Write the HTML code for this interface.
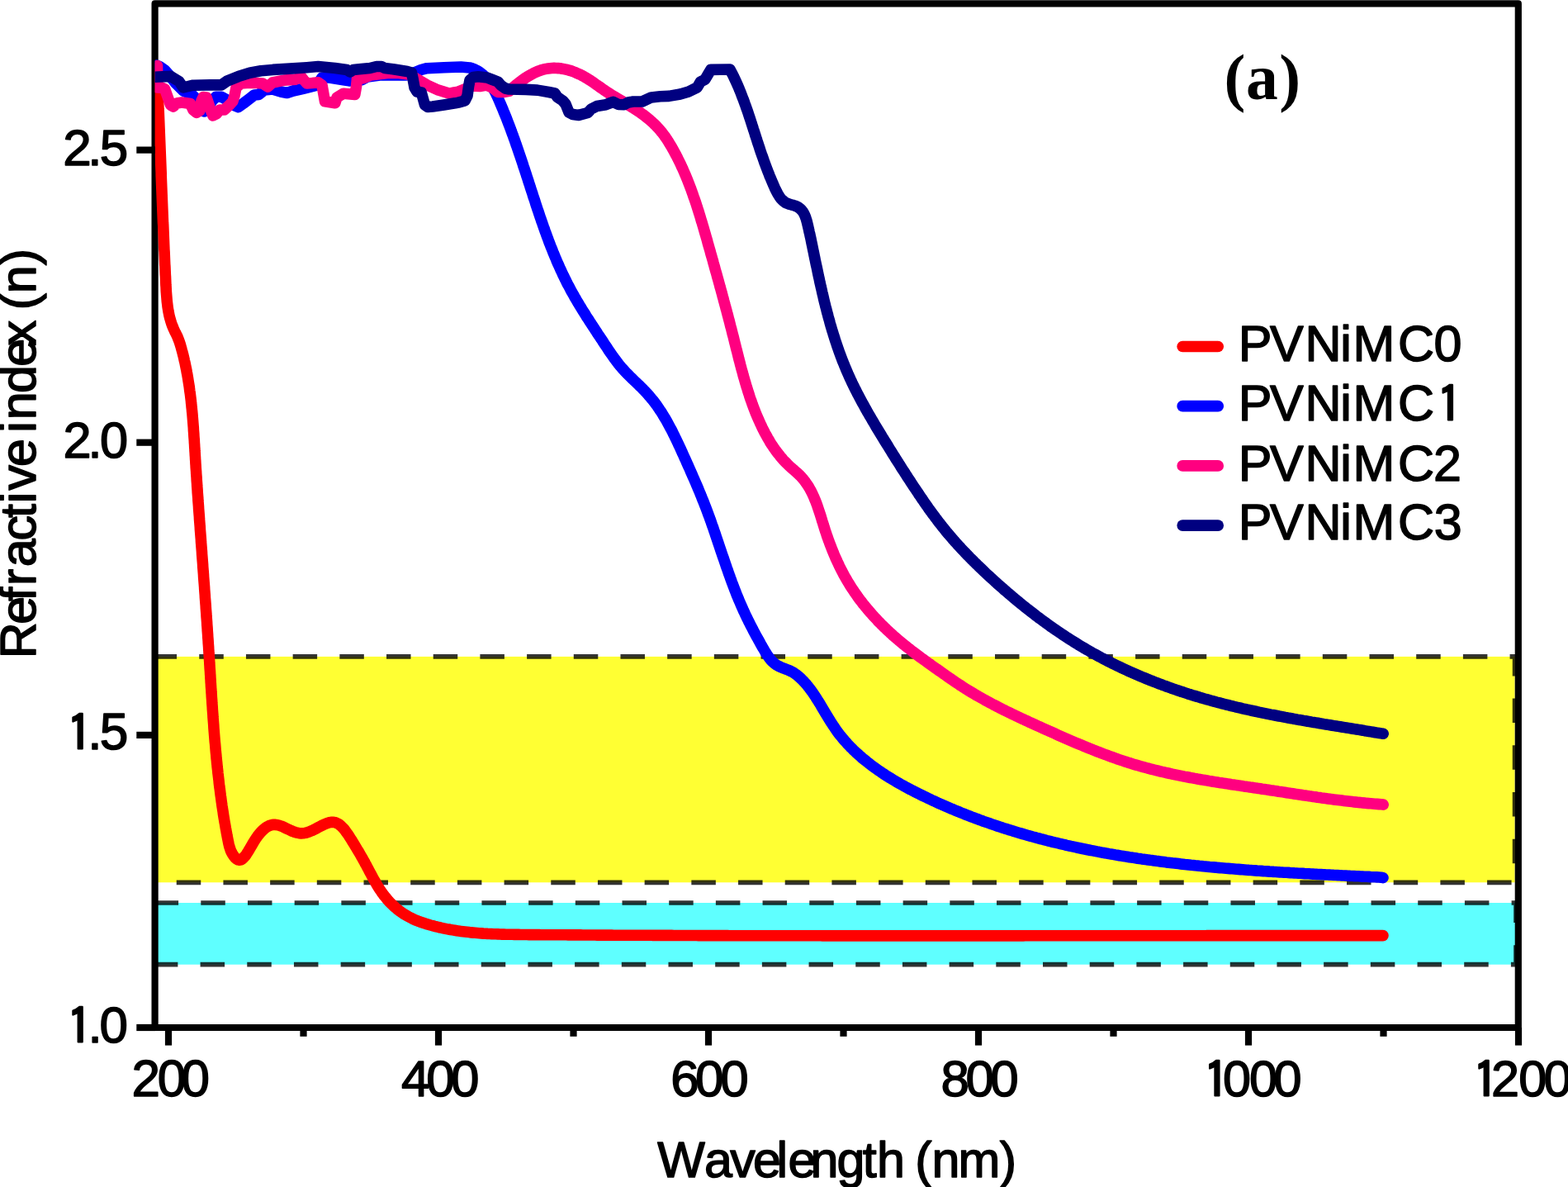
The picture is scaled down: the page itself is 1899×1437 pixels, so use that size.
<!DOCTYPE html>
<html><head><meta charset="utf-8"><title>Refractive index</title>
<style>html,body{margin:0;padding:0;background:#fff;}body{width:1899px;height:1437px;overflow:hidden;}svg{display:block;}</style>
</head><body>
<svg xmlns="http://www.w3.org/2000/svg" width="1899" height="1437" viewBox="0 0 1899 1437"><rect width="1899" height="1437" fill="#fff"/><defs><clipPath id="pr"><rect x="187.6" y="0" width="1700" height="1244"/></clipPath></defs><g clip-path="url(#pr)"><rect x="184.57" y="794.9" width="1650.03" height="273.4" fill="#ffff33" stroke="#000" stroke-opacity="0.8" stroke-width="5.7" stroke-dasharray="29.5 27.19"/><rect x="186.6" y="1093" width="1649.4" height="74.7" fill="#5fffff" stroke="#000" stroke-opacity="0.8" stroke-width="5.7" stroke-dasharray="29.5 27.19"/></g><path d="M187.6,1244 L187.6,4.3 L1838.8,4.3 L1838.8,1244 Z" fill="none" stroke="#000" stroke-width="8.2" stroke-linejoin="round"/><defs><clipPath id="pa"><rect x="187.6" y="4.3" width="1651.2" height="1239.7"/></clipPath></defs><g clip-path="url(#pa)"><path d="M189.8,82.0 L189.9,84.5 L190.1,87.0 L190.2,89.5 L190.3,92.0 L190.4,94.5 L190.5,97.0 L190.6,99.5 L190.7,102.0 L190.9,104.6 L191.0,107.1 L191.1,109.6 L191.2,112.1 L191.3,114.6 L191.4,117.1 L191.5,119.6 L191.6,122.1 L191.7,124.6 L191.8,127.1 L191.9,129.6 L192.0,132.1 L192.2,134.6 L192.3,137.1 L192.4,139.6 L192.5,142.1 L192.6,144.6 L192.7,147.1 L192.8,149.6 L192.9,152.1 L193.0,154.6 L193.1,157.1 L193.2,159.6 L193.3,162.1 L193.4,164.6 L193.5,167.1 L193.6,169.6 L193.7,172.1 L193.8,174.6 L193.9,177.1 L194.0,179.6 L194.1,182.1 L194.2,184.6 L194.3,187.1 L194.4,189.6 L194.5,192.1 L194.6,194.6 L194.7,197.1 L194.8,199.6 L194.9,202.1 L195.0,204.6 L195.1,207.1 L195.2,209.6 L195.2,212.1 L195.3,214.6 L195.4,217.1 L195.5,219.6 L195.6,222.1 L195.7,224.6 L195.8,227.1 L195.9,229.6 L196.0,232.1 L196.1,234.6 L196.2,237.1 L196.3,239.6 L196.4,242.1 L196.5,244.6 L196.6,247.1 L196.7,249.6 L196.8,252.1 L196.9,254.6 L197.0,257.1 L197.1,259.6 L197.2,262.1 L197.3,264.6 L197.4,267.1 L197.5,269.6 L197.7,272.1 L197.8,274.6 L197.9,277.1 L198.0,279.6 L198.1,282.1 L198.2,284.6 L198.3,287.1 L198.4,289.6 L198.5,292.1 L198.6,294.6 L198.7,297.1 L198.8,299.6 L198.9,302.2 L199.1,304.7 L199.2,307.2 L199.3,309.7 L199.4,312.2 L199.5,314.7 L199.6,317.2 L199.7,319.7 L199.9,322.2 L200.0,324.7 L200.1,327.3 L200.2,329.8 L200.3,332.3 L200.5,334.8 L200.6,337.3 L200.7,339.8 L200.8,342.3 L200.9,344.9 L201.1,347.4 L201.2,349.9 L201.3,352.4 L201.5,354.9 L201.7,357.4 L201.9,359.9 L202.1,362.4 L202.3,364.9 L202.6,367.4 L202.9,369.9 L203.2,372.3 L203.6,374.8 L204.0,377.2 L204.5,379.7 L205.0,382.1 L205.6,384.5 L206.3,386.9 L207.0,389.3 L207.7,391.6 L208.6,394.0 L209.5,396.3 L210.5,398.6 L211.5,400.8 L212.7,403.1 L213.8,405.4 L214.9,407.6 L215.8,410.0 L216.7,412.3 L217.5,414.6 L218.3,417.0 L219.0,419.4 L219.7,421.8 L220.3,424.2 L221.0,426.6 L221.6,429.0 L222.2,431.4 L222.8,433.8 L223.3,436.3 L223.9,438.7 L224.4,441.1 L224.9,443.6 L225.4,446.0 L225.9,448.4 L226.3,450.9 L226.8,453.3 L227.2,455.8 L227.6,458.2 L228.0,460.7 L228.4,463.2 L228.8,465.6 L229.2,468.1 L229.5,470.6 L229.8,473.1 L230.2,475.6 L230.5,478.0 L230.8,480.5 L231.1,483.0 L231.4,485.5 L231.6,488.0 L231.9,490.5 L232.1,493.0 L232.4,495.5 L232.6,498.0 L232.9,500.5 L233.1,503.0 L233.3,505.5 L233.5,508.0 L233.7,510.5 L233.9,513.0 L234.1,515.5 L234.3,518.1 L234.4,520.6 L234.6,523.1 L234.8,525.6 L234.9,528.1 L235.1,530.6 L235.3,533.1 L235.4,535.7 L235.6,538.2 L235.7,540.7 L235.9,543.2 L236.0,545.7 L236.2,548.2 L236.3,550.7 L236.5,553.3 L236.6,555.8 L236.8,558.3 L236.9,560.8 L237.1,563.3 L237.2,565.8 L237.4,568.3 L237.6,570.8 L237.7,573.3 L237.9,575.8 L238.1,578.3 L238.2,580.8 L238.4,583.4 L238.6,585.9 L238.7,588.4 L238.9,590.9 L239.1,593.4 L239.2,595.9 L239.4,598.4 L239.6,600.9 L239.8,603.4 L239.9,605.9 L240.1,608.3 L240.3,610.8 L240.5,613.3 L240.6,615.8 L240.8,618.3 L241.0,620.8 L241.2,623.3 L241.4,625.8 L241.5,628.3 L241.7,630.8 L241.9,633.3 L242.1,635.8 L242.3,638.3 L242.4,640.8 L242.6,643.3 L242.8,645.8 L243.0,648.3 L243.2,650.8 L243.4,653.3 L243.5,655.8 L243.7,658.3 L243.9,660.8 L244.1,663.3 L244.3,665.7 L244.5,668.2 L244.6,670.7 L244.8,673.2 L245.0,675.7 L245.2,678.2 L245.4,680.7 L245.6,683.2 L245.7,685.7 L245.9,688.2 L246.1,690.7 L246.3,693.2 L246.5,695.7 L246.6,698.2 L246.8,700.7 L247.0,703.2 L247.2,705.7 L247.4,708.2 L247.6,710.7 L247.7,713.2 L247.9,715.7 L248.1,718.2 L248.3,720.7 L248.4,723.2 L248.6,725.6 L248.8,728.1 L249.0,730.6 L249.2,733.1 L249.3,735.6 L249.5,738.1 L249.7,740.6 L249.9,743.1 L250.0,745.6 L250.2,748.1 L250.4,750.6 L250.6,753.1 L250.7,755.6 L250.9,758.1 L251.1,760.6 L251.2,763.1 L251.4,765.6 L251.6,768.1 L251.7,770.6 L251.9,773.1 L252.1,775.6 L252.2,778.1 L252.4,780.6 L252.6,783.1 L252.7,785.6 L252.9,788.1 L253.0,790.6 L253.2,793.1 L253.4,795.6 L253.5,798.1 L253.7,800.6 L253.8,803.1 L254.0,805.6 L254.1,808.1 L254.3,810.6 L254.5,813.1 L254.6,815.6 L254.8,818.1 L254.9,820.6 L255.1,823.1 L255.2,825.7 L255.4,828.2 L255.5,830.7 L255.7,833.2 L255.9,835.7 L256.0,838.2 L256.2,840.7 L256.3,843.2 L256.5,845.7 L256.7,848.2 L256.8,850.7 L257.0,853.2 L257.2,855.7 L257.3,858.2 L257.5,860.7 L257.7,863.2 L257.9,865.7 L258.0,868.2 L258.2,870.7 L258.4,873.2 L258.6,875.7 L258.8,878.2 L258.9,880.7 L259.1,883.2 L259.3,885.7 L259.5,888.2 L259.7,890.7 L259.9,893.2 L260.1,895.7 L260.3,898.2 L260.6,900.7 L260.8,903.2 L261.0,905.7 L261.2,908.2 L261.4,910.6 L261.7,913.1 L261.9,915.6 L262.1,918.1 L262.4,920.6 L262.6,923.1 L262.9,925.6 L263.1,928.1 L263.4,930.6 L263.7,933.1 L263.9,935.6 L264.2,938.0 L264.5,940.5 L264.8,943.0 L265.1,945.5 L265.3,948.0 L265.6,950.5 L265.9,952.9 L266.3,955.4 L266.6,957.9 L266.9,960.4 L267.2,962.9 L267.6,965.3 L267.9,967.8 L268.2,970.3 L268.6,972.8 L268.9,975.2 L269.3,977.7 L269.7,980.2 L270.1,982.7 L270.4,985.1 L270.8,987.6 L271.2,990.1 L271.6,992.5 L272.0,995.0 L272.5,997.5 L272.9,999.9 L273.3,1002.4 L273.8,1004.8 L274.2,1007.3 L274.7,1009.8 L275.1,1012.2 L275.6,1014.7 L276.1,1017.1 L276.6,1019.6 L277.1,1022.0 L277.7,1024.5 L278.5,1026.9 L279.3,1029.4 L280.4,1031.8 L281.8,1034.2 L283.3,1036.5 L284.9,1038.5 L286.7,1040.0 L288.4,1040.9 L290.1,1041.2 L291.8,1040.8 L293.5,1039.8 L295.1,1038.3 L296.8,1036.4 L298.4,1034.2 L300.0,1031.7 L301.7,1028.9 L303.3,1026.1 L305.0,1023.2 L306.7,1020.3 L308.4,1017.5 L310.1,1014.9 L311.9,1012.3 L313.7,1010.0 L315.6,1007.8 L317.5,1005.8 L319.4,1004.0 L321.3,1002.4 L323.3,1001.0 L325.4,999.9 L327.4,999.1 L329.5,998.6 L331.7,998.3 L333.8,998.4 L336.1,998.7 L338.3,999.3 L340.6,1000.1 L342.9,1001.1 L345.3,1002.2 L347.6,1003.3 L350.0,1004.4 L352.5,1005.6 L354.9,1006.6 L357.4,1007.5 L359.8,1008.2 L362.3,1008.7 L364.8,1008.9 L367.3,1008.8 L369.8,1008.4 L372.3,1007.7 L374.8,1006.8 L377.3,1005.8 L379.8,1004.6 L382.3,1003.4 L384.7,1002.1 L387.2,1000.8 L389.6,999.5 L391.9,998.4 L394.2,997.3 L396.5,996.5 L398.8,995.8 L401.0,995.4 L403.1,995.3 L405.2,995.5 L407.2,996.2 L409.2,997.1 L411.1,998.3 L412.9,999.9 L414.7,1001.6 L416.5,1003.5 L418.2,1005.7 L419.8,1007.9 L421.4,1010.2 L423.0,1012.6 L424.5,1015.0 L426.0,1017.3 L427.4,1019.7 L428.8,1021.9 L430.2,1024.2 L431.5,1026.4 L432.8,1028.6 L434.1,1030.7 L435.4,1032.9 L436.6,1035.0 L437.8,1037.1 L439.0,1039.2 L440.2,1041.3 L441.4,1043.4 L442.5,1045.6 L443.7,1047.7 L444.8,1049.8 L446.0,1052.0 L447.1,1054.2 L448.3,1056.4 L449.5,1058.6 L450.6,1060.8 L451.8,1063.0 L453.0,1065.1 L454.3,1067.3 L455.5,1069.5 L456.8,1071.7 L458.1,1073.8 L459.4,1075.9 L460.8,1078.0 L462.2,1080.1 L463.7,1082.1 L465.2,1084.2 L466.8,1086.1 L468.4,1088.1 L470.0,1090.0 L471.7,1091.9 L473.5,1093.7 L475.3,1095.4 L477.1,1097.2 L479.0,1098.8 L480.9,1100.5 L482.9,1102.0 L484.9,1103.5 L487.0,1105.0 L489.0,1106.4 L491.2,1107.7 L493.3,1108.9 L495.5,1110.1 L497.8,1111.3 L500.0,1112.4 L502.3,1113.4 L504.6,1114.4 L507.0,1115.3 L509.3,1116.2 L511.7,1117.0 L514.1,1117.8 L516.5,1118.6 L518.9,1119.3 L521.3,1120.0 L523.8,1120.6 L526.2,1121.3 L528.6,1121.9 L531.1,1122.5 L533.5,1123.0 L536.0,1123.6 L538.4,1124.1 L540.9,1124.6 L543.3,1125.0 L545.8,1125.5 L548.2,1125.9 L550.7,1126.3 L553.2,1126.7 L555.6,1127.1 L558.1,1127.4 L560.6,1127.7 L563.0,1128.0 L565.5,1128.3 L568.0,1128.6 L570.5,1128.9 L573.0,1129.1 L575.4,1129.3 L577.9,1129.5 L580.4,1129.7 L582.9,1129.9 L585.4,1130.1 L587.9,1130.2 L590.4,1130.4 L592.9,1130.5 L595.4,1130.6 L597.9,1130.7 L600.4,1130.8 L602.9,1130.9 L605.4,1131.0 L607.9,1131.1 L610.4,1131.1 L612.9,1131.2 L615.4,1131.3 L617.9,1131.3 L620.4,1131.3 L622.9,1131.4 L625.4,1131.4 L627.9,1131.4 L630.4,1131.5 L632.9,1131.5 L635.4,1131.5 L638.0,1131.5 L640.5,1131.6 L643.0,1131.6 L645.5,1131.6 L648.0,1131.6 L650.5,1131.6 L653.0,1131.6 L655.5,1131.7 L658.0,1131.7 L660.5,1131.7 L663.0,1131.7 L665.6,1131.7 L668.1,1131.7 L670.6,1131.7 L673.1,1131.8 L675.6,1131.8 L678.1,1131.8 L680.6,1131.8 L683.1,1131.8 L685.6,1131.8 L688.1,1131.9 L690.6,1131.9 L693.1,1131.9 L695.6,1131.9 L698.2,1131.9 L700.7,1131.9 L703.2,1131.9 L705.7,1132.0 L708.2,1132.0 L710.7,1132.0 L713.2,1132.0 L715.7,1132.0 L718.2,1132.0 L720.7,1132.0 L723.2,1132.1 L725.7,1132.1 L728.2,1132.1 L730.7,1132.1 L733.3,1132.1 L735.8,1132.1 L738.3,1132.1 L740.8,1132.1 L743.3,1132.2 L745.8,1132.2 L748.3,1132.2 L750.8,1132.2 L753.3,1132.2 L755.8,1132.2 L758.3,1132.2 L760.8,1132.2 L763.3,1132.2 L765.8,1132.3 L768.4,1132.3 L770.9,1132.3 L773.4,1132.3 L775.9,1132.3 L778.4,1132.3 L780.9,1132.3 L783.4,1132.3 L785.9,1132.3 L788.4,1132.3 L790.9,1132.4 L793.4,1132.4 L795.9,1132.4 L798.4,1132.4 L800.9,1132.4 L803.4,1132.4 L805.9,1132.4 L808.5,1132.4 L811.0,1132.4 L813.5,1132.4 L816.0,1132.5 L818.5,1132.5 L821.0,1132.5 L823.5,1132.5 L826.0,1132.5 L828.5,1132.5 L831.0,1132.5 L833.5,1132.5 L836.0,1132.5 L838.5,1132.5 L841.0,1132.5 L843.5,1132.5 L846.0,1132.6 L848.5,1132.6 L851.0,1132.6 L853.6,1132.6 L856.1,1132.6 L858.6,1132.6 L861.1,1132.6 L863.6,1132.6 L866.1,1132.6 L868.6,1132.6 L871.1,1132.6 L873.6,1132.6 L876.1,1132.6 L878.6,1132.6 L881.1,1132.6 L883.6,1132.7 L886.1,1132.7 L888.6,1132.7 L891.1,1132.7 L893.6,1132.7 L896.1,1132.7 L898.6,1132.7 L901.2,1132.7 L903.7,1132.7 L906.2,1132.7 L908.7,1132.7 L911.2,1132.7 L913.7,1132.7 L916.2,1132.7 L918.7,1132.7 L921.2,1132.7 L923.7,1132.7 L926.2,1132.7 L928.7,1132.8 L931.2,1132.8 L933.7,1132.8 L936.2,1132.8 L938.7,1132.8 L941.2,1132.8 L943.7,1132.8 L946.2,1132.8 L948.7,1132.8 L951.2,1132.8 L953.8,1132.8 L956.3,1132.8 L958.8,1132.8 L961.3,1132.8 L963.8,1132.8 L966.3,1132.8 L968.8,1132.8 L971.3,1132.8 L973.8,1132.8 L976.3,1132.8 L978.8,1132.8 L981.3,1132.8 L983.8,1132.8 L986.3,1132.8 L988.8,1132.8 L991.3,1132.8 L993.8,1132.8 L996.3,1132.9 L998.8,1132.9 L1001.3,1132.9 L1003.8,1132.9 L1006.3,1132.9 L1008.8,1132.9 L1011.3,1132.9 L1013.9,1132.9 L1016.4,1132.9 L1018.9,1132.9 L1021.4,1132.9 L1023.9,1132.9 L1026.4,1132.9 L1028.9,1132.9 L1031.4,1132.9 L1033.9,1132.9 L1036.4,1132.9 L1038.9,1132.9 L1041.4,1132.9 L1043.9,1132.9 L1046.4,1132.9 L1048.9,1132.9 L1051.4,1132.9 L1053.9,1132.9 L1056.4,1132.9 L1058.9,1132.9 L1061.4,1132.9 L1063.9,1132.9 L1066.4,1132.9 L1068.9,1132.9 L1071.4,1132.9 L1073.9,1132.9 L1076.4,1132.9 L1079.0,1132.9 L1081.5,1132.9 L1084.0,1132.9 L1086.5,1132.9 L1089.0,1132.9 L1091.5,1132.9 L1094.0,1132.9 L1096.5,1132.9 L1099.0,1132.9 L1101.5,1132.9 L1104.0,1132.9 L1106.5,1132.9 L1109.0,1132.9 L1111.5,1132.9 L1114.0,1132.9 L1116.5,1132.9 L1119.0,1132.9 L1121.5,1132.9 L1124.0,1132.9 L1126.5,1132.9 L1129.0,1132.9 L1131.5,1132.9 L1134.0,1132.9 L1136.5,1132.9 L1139.0,1132.9 L1141.5,1132.9 L1144.0,1132.9 L1146.5,1132.9 L1149.1,1132.9 L1151.6,1132.9 L1154.1,1132.9 L1156.6,1132.9 L1159.1,1132.9 L1161.6,1132.9 L1164.1,1132.9 L1166.6,1132.9 L1169.1,1132.9 L1171.6,1132.9 L1174.1,1132.9 L1176.6,1132.9 L1179.1,1132.9 L1181.6,1132.9 L1184.1,1132.9 L1186.6,1132.9 L1189.1,1132.9 L1191.6,1132.9 L1194.1,1132.9 L1196.6,1132.9 L1199.1,1132.9 L1201.6,1132.9 L1204.1,1132.9 L1206.6,1132.9 L1209.1,1132.9 L1211.6,1132.9 L1214.1,1132.9 L1216.6,1132.9 L1219.1,1132.9 L1221.7,1132.9 L1224.2,1132.9 L1226.7,1132.9 L1229.2,1132.9 L1231.7,1132.9 L1234.2,1132.9 L1236.7,1132.9 L1239.2,1132.9 L1241.7,1132.8 L1244.2,1132.8 L1246.7,1132.8 L1249.2,1132.8 L1251.7,1132.8 L1254.2,1132.8 L1256.7,1132.8 L1259.2,1132.8 L1261.7,1132.8 L1264.2,1132.8 L1266.7,1132.8 L1269.2,1132.8 L1271.7,1132.8 L1274.2,1132.8 L1276.7,1132.8 L1279.2,1132.8 L1281.7,1132.8 L1284.2,1132.8 L1286.7,1132.8 L1289.2,1132.8 L1291.7,1132.8 L1294.3,1132.8 L1296.8,1132.8 L1299.3,1132.8 L1301.8,1132.8 L1304.3,1132.8 L1306.8,1132.8 L1309.3,1132.8 L1311.8,1132.8 L1314.3,1132.8 L1316.8,1132.8 L1319.3,1132.8 L1321.8,1132.8 L1324.3,1132.8 L1326.8,1132.8 L1329.3,1132.8 L1331.8,1132.8 L1334.3,1132.8 L1336.8,1132.8 L1339.3,1132.8 L1341.8,1132.8 L1344.3,1132.8 L1346.8,1132.8 L1349.3,1132.8 L1351.8,1132.8 L1354.3,1132.7 L1356.8,1132.7 L1359.3,1132.7 L1361.9,1132.7 L1364.4,1132.7 L1366.9,1132.7 L1369.4,1132.7 L1371.9,1132.7 L1374.4,1132.7 L1376.9,1132.7 L1379.4,1132.7 L1381.9,1132.7 L1384.4,1132.7 L1386.9,1132.7 L1389.4,1132.7 L1391.9,1132.7 L1394.4,1132.7 L1396.9,1132.7 L1399.4,1132.7 L1401.9,1132.7 L1404.4,1132.7 L1406.9,1132.7 L1409.4,1132.7 L1411.9,1132.7 L1414.4,1132.7 L1416.9,1132.7 L1419.4,1132.7 L1421.9,1132.7 L1424.5,1132.7 L1427.0,1132.7 L1429.5,1132.7 L1432.0,1132.7 L1434.5,1132.7 L1437.0,1132.7 L1439.5,1132.7 L1442.0,1132.7 L1444.5,1132.7 L1447.0,1132.7 L1449.5,1132.7 L1452.0,1132.7 L1454.5,1132.7 L1457.0,1132.7 L1459.5,1132.7 L1462.0,1132.6 L1464.5,1132.6 L1467.0,1132.6 L1469.5,1132.6 L1472.0,1132.6 L1474.5,1132.6 L1477.0,1132.6 L1479.6,1132.6 L1482.1,1132.6 L1484.6,1132.6 L1487.1,1132.6 L1489.6,1132.6 L1492.1,1132.6 L1494.6,1132.6 L1497.1,1132.6 L1499.6,1132.6 L1502.1,1132.6 L1504.6,1132.6 L1507.1,1132.6 L1509.6,1132.6 L1512.1,1132.6 L1514.6,1132.6 L1517.1,1132.6 L1519.6,1132.6 L1522.1,1132.6 L1524.6,1132.6 L1527.1,1132.6 L1529.7,1132.6 L1532.2,1132.6 L1534.7,1132.6 L1537.2,1132.6 L1539.7,1132.6 L1542.2,1132.6 L1544.7,1132.6 L1547.2,1132.6 L1549.7,1132.6 L1552.2,1132.6 L1554.7,1132.6 L1557.2,1132.6 L1559.7,1132.6 L1562.2,1132.6 L1564.7,1132.6 L1567.2,1132.6 L1569.7,1132.6 L1572.2,1132.6 L1574.8,1132.6 L1577.3,1132.6 L1579.8,1132.6 L1582.3,1132.6 L1584.8,1132.6 L1587.3,1132.6 L1589.8,1132.6 L1592.3,1132.6 L1594.8,1132.6 L1597.3,1132.6 L1599.8,1132.6 L1602.3,1132.6 L1604.8,1132.6 L1607.3,1132.6 L1609.8,1132.6 L1612.3,1132.6 L1614.8,1132.6 L1617.4,1132.6 L1619.9,1132.6 L1622.4,1132.6 L1624.9,1132.6 L1627.4,1132.6 L1629.9,1132.6 L1632.4,1132.6 L1634.9,1132.6 L1637.4,1132.6 L1639.9,1132.6 L1642.4,1132.6 L1644.9,1132.6 L1647.4,1132.6 L1649.9,1132.6 L1652.4,1132.6 L1655.0,1132.6 L1657.5,1132.6 L1660.0,1132.6 L1662.5,1132.6 L1665.0,1132.6 L1667.5,1132.6 L1670.0,1132.6 L1672.5,1132.6 L1675.0,1132.6" fill="none" stroke="#ff0000" stroke-width="13.6" stroke-linejoin="round" stroke-linecap="round"/><path d="M189.5,79.0 L194.0,81.0 L199.7,85.1 L206.0,92.0 L213.0,101.0 L222.0,110.0 L232.5,114.5 L240.0,122.0 L247.6,135.0 L252.0,130.0 L257.0,122.0 L261.3,117.3 L268.1,117.3 L275.0,121.0 L282.0,127.0 L288.7,129.6 L295.0,125.0 L302.4,119.3 L308.0,115.0 L313.4,114.5 L320.3,109.0 L330.0,108.0 L340.0,111.0 L347.6,112.5 L355.0,110.0 L368.2,107.0 L381.9,103.6 L386.0,100.0 L390.0,94.0 L399.0,94.0 L416.1,96.7 L423.0,97.9 L438.0,96.7 L445.0,93.0 L460.0,91.0 L480.0,90.6 L491.0,91.0 L497.0,90.0 L503.4,87.2 L510.0,84.5 L517.1,82.7 L537.7,81.7 L558.2,81.0 L568.7,82.0 L568.7,82.0 L571.3,82.6 L573.7,83.5 L576.1,84.6 L578.3,85.8 L580.4,87.1 L582.4,88.5 L584.3,90.0 L586.1,91.7 L587.8,93.4 L589.4,95.2 L591.0,97.1 L592.4,99.0 L593.8,101.0 L595.2,103.1 L596.4,105.3 L597.7,107.4 L598.8,109.7 L600.0,111.9 L601.1,114.2 L602.2,116.5 L603.2,118.8 L604.2,121.1 L605.2,123.5 L606.2,125.8 L607.2,128.2 L608.2,130.5 L609.2,132.8 L610.1,135.2 L611.1,137.5 L612.0,139.8 L613.0,142.2 L613.9,144.5 L614.8,146.9 L615.7,149.2 L616.6,151.5 L617.5,153.9 L618.4,156.2 L619.2,158.6 L620.1,160.9 L621.0,163.3 L621.8,165.6 L622.7,168.0 L623.5,170.3 L624.3,172.7 L625.1,175.0 L626.0,177.4 L626.8,179.7 L627.6,182.1 L628.4,184.4 L629.2,186.8 L630.0,189.2 L630.8,191.5 L631.6,193.9 L632.4,196.2 L633.2,198.6 L633.9,201.0 L634.7,203.3 L635.5,205.7 L636.3,208.1 L637.1,210.4 L637.8,212.8 L638.6,215.2 L639.4,217.6 L640.1,219.9 L640.9,222.3 L641.7,224.7 L642.4,227.1 L643.2,229.4 L644.0,231.8 L644.8,234.2 L645.5,236.6 L646.3,239.0 L647.1,241.3 L647.9,243.7 L648.6,246.1 L649.4,248.5 L650.2,250.9 L651.0,253.3 L651.8,255.6 L652.6,258.0 L653.4,260.4 L654.2,262.8 L655.0,265.1 L655.8,267.5 L656.7,269.9 L657.5,272.3 L658.3,274.6 L659.2,277.0 L660.0,279.4 L660.9,281.7 L661.7,284.1 L662.6,286.4 L663.5,288.8 L664.3,291.1 L665.2,293.5 L666.1,295.8 L667.0,298.2 L668.0,300.5 L668.9,302.8 L669.8,305.2 L670.8,307.5 L671.7,309.8 L672.7,312.1 L673.7,314.4 L674.6,316.7 L675.6,319.0 L676.7,321.3 L677.7,323.6 L678.7,325.9 L679.8,328.1 L680.8,330.4 L681.9,332.7 L683.0,334.9 L684.1,337.2 L685.2,339.4 L686.3,341.7 L687.4,343.9 L688.6,346.1 L689.8,348.3 L690.9,350.5 L692.1,352.7 L693.4,354.9 L694.6,357.1 L695.8,359.3 L697.1,361.4 L698.3,363.6 L699.6,365.8 L700.9,367.9 L702.2,370.1 L703.5,372.2 L704.8,374.4 L706.1,376.5 L707.5,378.6 L708.8,380.7 L710.1,382.9 L711.5,385.0 L712.9,387.1 L714.2,389.2 L715.6,391.3 L717.0,393.4 L718.3,395.5 L719.7,397.6 L721.1,399.7 L722.5,401.8 L723.8,403.9 L725.2,406.0 L726.6,408.1 L728.0,410.2 L729.4,412.2 L730.7,414.3 L732.1,416.4 L733.5,418.5 L734.9,420.6 L736.3,422.7 L737.6,424.7 L739.0,426.8 L740.5,428.9 L741.9,430.9 L743.3,432.9 L744.8,434.9 L746.3,436.9 L747.8,438.9 L749.3,440.9 L750.9,442.8 L752.5,444.7 L754.2,446.6 L755.9,448.5 L757.6,450.3 L759.3,452.1 L761.1,453.9 L762.9,455.7 L764.7,457.5 L766.5,459.2 L768.3,461.0 L770.2,462.7 L772.0,464.5 L773.8,466.3 L775.6,468.0 L777.4,469.8 L779.2,471.6 L780.9,473.4 L782.7,475.2 L784.4,477.1 L786.0,479.0 L787.6,480.9 L789.2,482.8 L790.8,484.7 L792.3,486.7 L793.8,488.7 L795.3,490.7 L796.7,492.7 L798.1,494.8 L799.5,496.9 L800.9,498.9 L802.2,501.0 L803.5,503.2 L804.8,505.3 L806.1,507.4 L807.3,509.6 L808.5,511.8 L809.7,514.0 L810.9,516.2 L812.1,518.4 L813.3,520.6 L814.4,522.8 L815.5,525.1 L816.6,527.3 L817.7,529.6 L818.8,531.8 L819.9,534.1 L821.0,536.4 L822.0,538.6 L823.1,540.9 L824.2,543.2 L825.2,545.5 L826.2,547.8 L827.3,550.1 L828.3,552.4 L829.3,554.6 L830.4,556.9 L831.4,559.2 L832.4,561.5 L833.4,563.8 L834.5,566.1 L835.5,568.4 L836.5,570.7 L837.5,573.0 L838.5,575.3 L839.5,577.6 L840.5,579.8 L841.5,582.1 L842.5,584.4 L843.5,586.7 L844.5,589.0 L845.4,591.3 L846.4,593.6 L847.4,596.0 L848.3,598.3 L849.3,600.6 L850.2,602.9 L851.1,605.2 L852.1,607.5 L853.0,609.9 L853.9,612.2 L854.8,614.5 L855.7,616.9 L856.6,619.2 L857.4,621.5 L858.3,623.9 L859.2,626.2 L860.0,628.6 L860.9,630.9 L861.7,633.3 L862.5,635.7 L863.4,638.0 L864.2,640.4 L865.0,642.8 L865.8,645.1 L866.6,647.5 L867.4,649.9 L868.2,652.2 L869.0,654.6 L869.8,657.0 L870.6,659.4 L871.4,661.7 L872.2,664.1 L873.0,666.5 L873.8,668.9 L874.6,671.2 L875.4,673.6 L876.3,676.0 L877.1,678.4 L877.9,680.7 L878.7,683.1 L879.5,685.5 L880.3,687.8 L881.2,690.2 L882.0,692.6 L882.8,694.9 L883.7,697.3 L884.5,699.6 L885.4,702.0 L886.2,704.3 L887.1,706.7 L888.0,709.0 L888.9,711.4 L889.8,713.7 L890.7,716.0 L891.6,718.4 L892.5,720.7 L893.5,723.0 L894.4,725.3 L895.4,727.6 L896.4,729.9 L897.4,732.2 L898.4,734.5 L899.4,736.8 L900.4,739.1 L901.5,741.3 L902.5,743.6 L903.6,745.9 L904.7,748.1 L905.8,750.4 L906.9,752.6 L908.0,754.8 L909.1,757.1 L910.3,759.3 L911.5,761.5 L912.6,763.8 L913.8,766.0 L915.0,768.2 L916.2,770.4 L917.4,772.6 L918.6,774.8 L919.9,777.0 L921.1,779.3 L922.3,781.5 L923.6,783.7 L924.9,785.9 L926.1,788.0 L927.4,790.2 L928.8,792.4 L930.1,794.4 L931.6,796.4 L933.1,798.4 L934.7,800.2 L936.5,801.9 L938.3,803.5 L940.3,804.9 L942.4,806.1 L944.6,807.2 L947.0,808.2 L949.4,809.2 L951.8,810.1 L954.2,811.0 L956.5,812.0 L958.8,813.1 L961.0,814.3 L963.0,815.7 L965.0,817.1 L966.9,818.7 L968.7,820.3 L970.5,822.0 L972.2,823.7 L973.9,825.5 L975.5,827.3 L977.1,829.1 L978.6,831.0 L980.1,832.9 L981.6,834.9 L983.1,836.9 L984.5,838.9 L985.9,840.9 L987.3,843.0 L988.6,845.1 L989.9,847.2 L991.3,849.3 L992.6,851.4 L993.9,853.5 L995.1,855.7 L996.4,857.8 L997.7,860.0 L999.0,862.2 L1000.3,864.3 L1001.6,866.5 L1002.9,868.6 L1004.2,870.8 L1005.5,872.9 L1006.8,875.0 L1008.2,877.1 L1009.6,879.2 L1011.0,881.2 L1012.4,883.3 L1013.8,885.3 L1015.3,887.3 L1016.8,889.3 L1018.4,891.2 L1019.9,893.1 L1021.5,895.0 L1023.1,896.9 L1024.8,898.7 L1026.4,900.6 L1028.1,902.4 L1029.8,904.2 L1031.6,905.9 L1033.3,907.7 L1035.1,909.4 L1036.9,911.1 L1038.7,912.7 L1040.6,914.4 L1042.5,916.0 L1044.3,917.7 L1046.2,919.3 L1048.2,920.8 L1050.1,922.4 L1052.1,923.9 L1054.1,925.5 L1056.0,927.0 L1058.1,928.5 L1060.1,929.9 L1062.1,931.4 L1064.2,932.8 L1066.3,934.2 L1068.3,935.6 L1070.4,937.0 L1072.6,938.4 L1074.7,939.8 L1076.8,941.1 L1079.0,942.4 L1081.1,943.7 L1083.3,945.0 L1085.5,946.3 L1087.7,947.6 L1089.9,948.9 L1092.1,950.1 L1094.3,951.3 L1096.6,952.6 L1098.8,953.8 L1101.0,955.0 L1103.3,956.1 L1105.5,957.3 L1107.8,958.5 L1110.1,959.6 L1112.4,960.8 L1114.6,961.9 L1116.9,963.0 L1119.2,964.1 L1121.5,965.2 L1123.8,966.3 L1126.1,967.4 L1128.3,968.5 L1130.6,969.6 L1132.9,970.6 L1135.2,971.7 L1137.5,972.7 L1139.9,973.7 L1142.2,974.8 L1144.5,975.8 L1146.8,976.8 L1149.1,977.8 L1151.4,978.8 L1153.7,979.7 L1156.1,980.7 L1158.4,981.7 L1160.7,982.6 L1163.0,983.6 L1165.4,984.5 L1167.7,985.4 L1170.0,986.3 L1172.4,987.3 L1174.7,988.2 L1177.1,989.1 L1179.4,989.9 L1181.8,990.8 L1184.1,991.7 L1186.5,992.6 L1188.8,993.4 L1191.2,994.3 L1193.5,995.1 L1195.9,995.9 L1198.2,996.7 L1200.6,997.6 L1203.0,998.4 L1205.3,999.2 L1207.7,1000.0 L1210.1,1000.8 L1212.5,1001.5 L1214.8,1002.3 L1217.2,1003.1 L1219.6,1003.8 L1222.0,1004.6 L1224.4,1005.3 L1226.8,1006.0 L1229.1,1006.8 L1231.5,1007.5 L1233.9,1008.2 L1236.3,1008.9 L1238.7,1009.6 L1241.1,1010.3 L1243.5,1011.0 L1245.9,1011.7 L1248.3,1012.3 L1250.7,1013.0 L1253.1,1013.6 L1255.5,1014.3 L1257.9,1014.9 L1260.3,1015.6 L1262.8,1016.2 L1265.2,1016.8 L1267.6,1017.5 L1270.0,1018.1 L1272.4,1018.7 L1274.8,1019.3 L1277.3,1019.9 L1279.7,1020.4 L1282.1,1021.0 L1284.5,1021.6 L1287.0,1022.2 L1289.4,1022.7 L1291.8,1023.3 L1294.3,1023.8 L1296.7,1024.4 L1299.1,1024.9 L1301.6,1025.4 L1304.0,1026.0 L1306.5,1026.5 L1308.9,1027.0 L1311.3,1027.5 L1313.8,1028.0 L1316.2,1028.5 L1318.7,1029.0 L1321.1,1029.5 L1323.6,1029.9 L1326.0,1030.4 L1328.5,1030.9 L1330.9,1031.3 L1333.4,1031.8 L1335.8,1032.3 L1338.3,1032.7 L1340.8,1033.1 L1343.2,1033.6 L1345.7,1034.0 L1348.1,1034.4 L1350.6,1034.9 L1353.1,1035.3 L1355.5,1035.7 L1358.0,1036.1 L1360.5,1036.5 L1362.9,1036.9 L1365.4,1037.3 L1367.9,1037.7 L1370.3,1038.0 L1372.8,1038.4 L1375.3,1038.8 L1377.8,1039.2 L1380.2,1039.5 L1382.7,1039.9 L1385.2,1040.2 L1387.7,1040.6 L1390.1,1040.9 L1392.6,1041.3 L1395.1,1041.6 L1397.6,1041.9 L1400.1,1042.3 L1402.6,1042.6 L1405.0,1042.9 L1407.5,1043.2 L1410.0,1043.5 L1412.5,1043.9 L1415.0,1044.2 L1417.5,1044.5 L1420.0,1044.8 L1422.5,1045.0 L1424.9,1045.3 L1427.4,1045.6 L1429.9,1045.9 L1432.4,1046.2 L1434.9,1046.5 L1437.4,1046.7 L1439.9,1047.0 L1442.4,1047.3 L1444.9,1047.5 L1447.4,1047.8 L1449.9,1048.0 L1452.4,1048.3 L1454.9,1048.5 L1457.4,1048.8 L1459.9,1049.0 L1462.4,1049.2 L1464.9,1049.5 L1467.4,1049.7 L1469.9,1049.9 L1472.4,1050.1 L1474.9,1050.4 L1477.4,1050.6 L1479.9,1050.8 L1482.4,1051.0 L1484.9,1051.2 L1487.4,1051.4 L1489.9,1051.6 L1492.4,1051.8 L1494.9,1052.0 L1497.4,1052.2 L1499.9,1052.4 L1502.4,1052.6 L1504.9,1052.8 L1507.4,1053.0 L1509.9,1053.2 L1512.4,1053.4 L1514.9,1053.5 L1517.4,1053.7 L1519.9,1053.9 L1522.5,1054.1 L1525.0,1054.2 L1527.5,1054.4 L1530.0,1054.6 L1532.5,1054.7 L1535.0,1054.9 L1537.5,1055.1 L1540.0,1055.2 L1542.5,1055.4 L1545.0,1055.5 L1547.5,1055.7 L1550.0,1055.9 L1552.5,1056.0 L1555.0,1056.2 L1557.5,1056.3 L1560.1,1056.4 L1562.6,1056.6 L1565.1,1056.7 L1567.6,1056.9 L1570.1,1057.0 L1572.6,1057.2 L1575.1,1057.3 L1577.6,1057.4 L1580.1,1057.6 L1582.6,1057.7 L1585.1,1057.8 L1587.6,1058.0 L1590.1,1058.1 L1592.6,1058.2 L1595.1,1058.4 L1597.6,1058.5 L1600.1,1058.6 L1602.6,1058.7 L1605.1,1058.9 L1607.6,1059.0 L1610.1,1059.1 L1612.6,1059.2 L1615.1,1059.4 L1617.6,1059.5 L1620.1,1059.6 L1622.6,1059.7 L1625.1,1059.9 L1627.6,1060.0 L1630.1,1060.1 L1632.6,1060.2 L1635.1,1060.4 L1637.6,1060.5 L1640.1,1060.6 L1642.6,1060.7 L1645.1,1060.8 L1647.6,1061.0 L1650.1,1061.1 L1652.6,1061.2 L1655.1,1061.3 L1657.6,1061.4 L1660.0,1061.6 L1662.5,1061.7 L1665.0,1061.8 L1667.5,1061.9 L1670.0,1062.0 L1672.5,1062.2 L1675.0,1062.7" fill="none" stroke="#0000ff" stroke-width="13.6" stroke-linejoin="round" stroke-linecap="round"/><path d="M190.5,79.5 L190.5,106.0 L196.0,106.3 L199.7,108.0 L204.0,120.0 L206.5,127.0 L210.0,129.0 L214.0,125.0 L220.2,124.1 L230.5,125.5 L234.0,133.0 L238.0,136.4 L242.0,134.0 L244.0,122.0 L246.2,117.6 L250.0,118.0 L254.0,130.0 L257.9,140.0 L262.0,138.0 L266.0,133.0 L271.6,133.0 L278.0,127.0 L281.8,122.8 L284.0,116.0 L286.0,106.0 L292.1,100.9 L302.4,100.2 L310.0,100.5 L318.0,101.0 L324.4,105.0 L330.0,100.0 L344.2,97.1 L357.9,96.1 L364.8,93.0 L368.0,97.0 L371.6,100.9 L378.0,100.5 L385.3,99.8 L390.0,103.0 L393.5,122.8 L405.8,124.8 L408.0,118.0 L416.1,113.2 L429.8,114.5 L431.5,105.0 L432.5,95.4 L440.0,94.7 L448.7,91.0 L469.2,88.5 L482.9,88.5 L495.0,90.0 L506.9,96.7 L517.1,102.9 L530.8,109.1 L544.5,113.2 L550.0,112.0 L555.0,111.1 L565.0,107.0 L572.0,104.0 L581.0,104.5 L589.2,103.0 L596.0,106.0 L602.9,111.5 L610.0,111.5 L616.6,110.4 L616.6,110.4 L618.3,108.7 L620.1,107.1 L621.9,105.5 L623.8,103.9 L625.7,102.3 L627.7,100.7 L629.7,99.2 L631.8,97.6 L633.9,96.1 L636.0,94.6 L638.2,93.2 L640.4,91.9 L642.6,90.6 L644.9,89.3 L647.2,88.2 L649.5,87.1 L651.8,86.2 L654.2,85.3 L656.6,84.5 L658.9,83.9 L661.3,83.4 L663.8,83.0 L666.2,82.7 L668.6,82.5 L671.0,82.4 L673.4,82.5 L675.9,82.6 L678.3,82.8 L680.7,83.2 L683.1,83.6 L685.5,84.1 L687.9,84.7 L690.3,85.4 L692.6,86.1 L695.0,87.0 L697.3,87.9 L699.6,88.9 L701.9,89.9 L704.1,91.0 L706.3,92.2 L708.5,93.5 L710.7,94.7 L712.8,96.1 L715.0,97.4 L717.1,98.8 L719.2,100.3 L721.2,101.7 L723.3,103.2 L725.4,104.6 L727.5,106.1 L729.5,107.5 L731.6,109.0 L733.7,110.4 L735.8,111.8 L737.9,113.1 L740.0,114.5 L742.2,115.8 L744.3,117.1 L746.5,118.4 L748.6,119.7 L750.7,120.9 L752.9,122.2 L755.0,123.5 L757.2,124.8 L759.3,126.1 L761.4,127.3 L763.6,128.6 L765.7,130.0 L767.8,131.3 L769.9,132.7 L772.0,134.0 L774.1,135.4 L776.1,136.9 L778.2,138.3 L780.2,139.8 L782.2,141.4 L784.1,142.9 L786.1,144.5 L788.0,146.1 L789.8,147.8 L791.7,149.5 L793.5,151.2 L795.2,153.0 L796.9,154.8 L798.6,156.7 L800.2,158.6 L801.8,160.5 L803.3,162.5 L804.8,164.5 L806.2,166.5 L807.6,168.6 L809.0,170.7 L810.3,172.8 L811.6,175.0 L812.9,177.1 L814.1,179.3 L815.4,181.5 L816.6,183.7 L817.8,185.9 L818.9,188.1 L820.1,190.3 L821.2,192.6 L822.3,194.8 L823.4,197.0 L824.5,199.3 L825.5,201.6 L826.6,203.8 L827.6,206.1 L828.6,208.4 L829.6,210.7 L830.6,213.0 L831.5,215.3 L832.5,217.7 L833.4,220.0 L834.3,222.3 L835.2,224.7 L836.1,227.0 L837.0,229.3 L837.8,231.7 L838.7,234.1 L839.5,236.4 L840.3,238.8 L841.2,241.2 L842.0,243.5 L842.8,245.9 L843.6,248.3 L844.3,250.7 L845.1,253.1 L845.9,255.5 L846.6,257.9 L847.4,260.3 L848.1,262.7 L848.8,265.1 L849.5,267.5 L850.3,269.9 L851.0,272.3 L851.7,274.7 L852.4,277.2 L853.1,279.6 L853.8,282.0 L854.5,284.4 L855.2,286.8 L855.9,289.2 L856.6,291.7 L857.2,294.1 L857.9,296.5 L858.6,298.9 L859.3,301.3 L860.0,303.7 L860.6,306.1 L861.3,308.5 L862.0,310.9 L862.7,313.3 L863.4,315.7 L864.0,318.2 L864.7,320.6 L865.4,323.0 L866.0,325.4 L866.7,327.8 L867.4,330.2 L868.1,332.6 L868.7,335.0 L869.4,337.4 L870.1,339.8 L870.7,342.2 L871.4,344.6 L872.0,347.0 L872.7,349.4 L873.4,351.8 L874.0,354.2 L874.7,356.6 L875.3,359.0 L876.0,361.4 L876.6,363.9 L877.3,366.3 L877.9,368.7 L878.6,371.1 L879.2,373.5 L879.9,375.9 L880.5,378.3 L881.1,380.7 L881.8,383.2 L882.4,385.6 L883.1,388.0 L883.7,390.4 L884.3,392.9 L884.9,395.3 L885.6,397.7 L886.2,400.1 L886.8,402.6 L887.4,405.0 L888.1,407.4 L888.7,409.9 L889.3,412.3 L889.9,414.8 L890.5,417.2 L891.1,419.7 L891.7,422.1 L892.4,424.5 L893.0,427.0 L893.6,429.4 L894.2,431.9 L894.8,434.3 L895.5,436.8 L896.1,439.2 L896.7,441.7 L897.4,444.1 L898.0,446.5 L898.7,449.0 L899.4,451.4 L900.0,453.8 L900.7,456.3 L901.4,458.7 L902.1,461.1 L902.8,463.5 L903.5,465.9 L904.2,468.3 L905.0,470.7 L905.7,473.1 L906.5,475.5 L907.3,477.9 L908.0,480.3 L908.8,482.7 L909.7,485.0 L910.5,487.4 L911.3,489.7 L912.2,492.1 L913.1,494.4 L914.0,496.7 L914.9,499.1 L915.8,501.4 L916.8,503.7 L917.8,506.0 L918.8,508.3 L919.8,510.5 L920.8,512.8 L921.9,515.0 L922.9,517.3 L924.0,519.5 L925.2,521.7 L926.3,524.0 L927.5,526.1 L928.7,528.3 L929.9,530.5 L931.2,532.6 L932.4,534.8 L933.7,536.9 L935.1,539.0 L936.5,541.1 L937.9,543.1 L939.3,545.1 L940.8,547.1 L942.3,549.1 L943.9,551.1 L945.4,553.0 L947.1,554.9 L948.7,556.8 L950.4,558.6 L952.2,560.4 L954.0,562.2 L955.8,564.0 L957.7,565.7 L959.6,567.4 L961.5,569.0 L963.4,570.7 L965.3,572.4 L967.2,574.1 L969.0,575.9 L970.7,577.7 L972.3,579.5 L973.8,581.4 L975.3,583.3 L976.7,585.3 L978.1,587.3 L979.4,589.4 L980.6,591.5 L981.8,593.6 L982.9,595.8 L984.0,598.0 L985.0,600.2 L986.0,602.4 L986.9,604.7 L987.9,607.0 L988.7,609.3 L989.6,611.6 L990.4,614.0 L991.2,616.4 L992.0,618.7 L992.8,621.1 L993.6,623.5 L994.3,625.9 L995.1,628.3 L995.8,630.8 L996.6,633.2 L997.3,635.6 L998.1,638.0 L998.8,640.4 L999.6,642.8 L1000.4,645.2 L1001.2,647.6 L1002.0,650.0 L1002.9,652.4 L1003.7,654.7 L1004.6,657.1 L1005.5,659.5 L1006.4,661.8 L1007.3,664.2 L1008.2,666.5 L1009.2,668.8 L1010.1,671.1 L1011.1,673.4 L1012.1,675.7 L1013.2,678.0 L1014.2,680.3 L1015.3,682.5 L1016.3,684.8 L1017.4,687.0 L1018.6,689.3 L1019.7,691.5 L1020.9,693.7 L1022.0,695.9 L1023.2,698.1 L1024.5,700.3 L1025.7,702.4 L1027.0,704.6 L1028.3,706.7 L1029.6,708.8 L1030.9,710.9 L1032.3,713.0 L1033.7,715.1 L1035.1,717.2 L1036.5,719.2 L1038.0,721.3 L1039.4,723.3 L1040.9,725.3 L1042.4,727.3 L1044.0,729.3 L1045.5,731.3 L1047.1,733.2 L1048.7,735.2 L1050.3,737.1 L1051.9,739.0 L1053.5,740.9 L1055.2,742.8 L1056.9,744.7 L1058.6,746.6 L1060.3,748.4 L1062.0,750.2 L1063.7,752.1 L1065.5,753.9 L1067.2,755.7 L1069.0,757.4 L1070.8,759.2 L1072.6,760.9 L1074.4,762.7 L1076.3,764.4 L1078.1,766.1 L1080.0,767.8 L1081.8,769.5 L1083.7,771.1 L1085.6,772.8 L1087.5,774.4 L1089.4,776.0 L1091.4,777.6 L1093.3,779.2 L1095.2,780.8 L1097.2,782.4 L1099.1,783.9 L1101.1,785.4 L1103.1,787.0 L1105.0,788.5 L1107.0,790.0 L1109.0,791.5 L1111.0,793.0 L1113.0,794.5 L1115.0,796.0 L1117.1,797.5 L1119.1,798.9 L1121.1,800.4 L1123.1,801.9 L1125.2,803.3 L1127.2,804.8 L1129.2,806.2 L1131.3,807.7 L1133.3,809.1 L1135.4,810.5 L1137.4,812.0 L1139.5,813.4 L1141.5,814.9 L1143.6,816.3 L1145.6,817.7 L1147.7,819.2 L1149.7,820.6 L1151.8,822.0 L1153.9,823.5 L1155.9,824.9 L1158.0,826.3 L1160.1,827.7 L1162.2,829.1 L1164.3,830.4 L1166.4,831.8 L1168.5,833.2 L1170.6,834.5 L1172.8,835.8 L1174.9,837.1 L1177.0,838.4 L1179.2,839.7 L1181.3,841.0 L1183.5,842.2 L1185.7,843.5 L1187.8,844.7 L1190.0,845.9 L1192.2,847.1 L1194.4,848.4 L1196.6,849.5 L1198.8,850.7 L1201.0,851.9 L1203.2,853.1 L1205.4,854.2 L1207.7,855.4 L1209.9,856.5 L1212.1,857.7 L1214.4,858.8 L1216.6,859.9 L1218.8,861.0 L1221.1,862.1 L1223.3,863.2 L1225.6,864.3 L1227.9,865.4 L1230.1,866.5 L1232.4,867.5 L1234.6,868.6 L1236.9,869.7 L1239.2,870.7 L1241.5,871.8 L1243.7,872.8 L1246.0,873.9 L1248.3,874.9 L1250.6,876.0 L1252.9,877.0 L1255.2,878.1 L1257.4,879.1 L1259.7,880.1 L1262.0,881.2 L1264.3,882.2 L1266.6,883.2 L1268.9,884.2 L1271.2,885.3 L1273.5,886.3 L1275.8,887.3 L1278.1,888.3 L1280.3,889.4 L1282.6,890.4 L1284.9,891.4 L1287.2,892.4 L1289.5,893.4 L1291.8,894.4 L1294.1,895.4 L1296.4,896.4 L1298.7,897.4 L1301.0,898.4 L1303.3,899.4 L1305.7,900.4 L1308.0,901.3 L1310.3,902.3 L1312.6,903.3 L1314.9,904.2 L1317.2,905.2 L1319.5,906.1 L1321.9,907.0 L1324.2,908.0 L1326.5,908.9 L1328.8,909.8 L1331.2,910.7 L1333.5,911.6 L1335.8,912.5 L1338.2,913.4 L1340.5,914.2 L1342.9,915.1 L1345.2,916.0 L1347.6,916.8 L1349.9,917.6 L1352.3,918.5 L1354.6,919.3 L1357.0,920.1 L1359.4,920.9 L1361.7,921.7 L1364.1,922.4 L1366.5,923.2 L1368.9,923.9 L1371.3,924.7 L1373.6,925.4 L1376.0,926.1 L1378.4,926.8 L1380.8,927.5 L1383.2,928.2 L1385.6,928.8 L1388.1,929.5 L1390.5,930.1 L1392.9,930.8 L1395.3,931.4 L1397.7,932.0 L1400.2,932.6 L1402.6,933.2 L1405.0,933.8 L1407.5,934.4 L1409.9,934.9 L1412.3,935.5 L1414.8,936.0 L1417.2,936.5 L1419.7,937.1 L1422.1,937.6 L1424.6,938.1 L1427.1,938.6 L1429.5,939.1 L1432.0,939.6 L1434.4,940.1 L1436.9,940.5 L1439.4,941.0 L1441.8,941.5 L1444.3,941.9 L1446.8,942.4 L1449.3,942.8 L1451.7,943.3 L1454.2,943.7 L1456.7,944.1 L1459.2,944.5 L1461.6,944.9 L1464.1,945.4 L1466.6,945.8 L1469.1,946.2 L1471.6,946.6 L1474.1,947.0 L1476.5,947.4 L1479.0,947.7 L1481.5,948.1 L1484.0,948.5 L1486.5,948.9 L1489.0,949.3 L1491.5,949.7 L1493.9,950.0 L1496.4,950.4 L1498.9,950.8 L1501.4,951.1 L1503.9,951.5 L1506.4,951.9 L1508.9,952.2 L1511.4,952.6 L1513.8,953.0 L1516.3,953.3 L1518.8,953.7 L1521.3,954.1 L1523.8,954.4 L1526.3,954.8 L1528.7,955.2 L1531.2,955.5 L1533.7,955.9 L1536.2,956.3 L1538.7,956.7 L1541.1,957.0 L1543.6,957.4 L1546.1,957.8 L1548.5,958.2 L1551.0,958.5 L1553.5,958.9 L1556.0,959.3 L1558.4,959.7 L1560.9,960.1 L1563.4,960.4 L1565.8,960.8 L1568.3,961.2 L1570.8,961.6 L1573.3,961.9 L1575.7,962.3 L1578.2,962.7 L1580.7,963.0 L1583.1,963.4 L1585.6,963.8 L1588.1,964.1 L1590.5,964.5 L1593.0,964.8 L1595.5,965.2 L1598.0,965.5 L1600.4,965.9 L1602.9,966.2 L1605.4,966.6 L1607.9,966.9 L1610.3,967.2 L1612.8,967.6 L1615.3,967.9 L1617.8,968.2 L1620.3,968.5 L1622.7,968.8 L1625.2,969.1 L1627.7,969.4 L1630.2,969.7 L1632.7,970.0 L1635.2,970.3 L1637.7,970.6 L1640.1,970.9 L1642.6,971.1 L1645.1,971.4 L1647.6,971.6 L1650.1,971.9 L1652.6,972.1 L1655.1,972.4 L1657.6,972.6 L1660.2,972.8 L1662.7,973.0 L1665.2,973.2 L1667.7,973.4 L1670.2,973.6 L1672.7,973.8 L1675.2,974.1" fill="none" stroke="#ff0080" stroke-width="13.6" stroke-linejoin="round" stroke-linecap="round"/><path d="M187.5,93.3 L206.5,92.4 L216.8,98.5 L222.0,106.0 L226.0,105.0 L233.9,103.2 L254.4,102.9 L268.1,102.9 L275.0,98.1 L288.7,92.6 L302.4,88.3 L316.0,85.8 L330.5,84.4 L351.1,83.1 L371.6,81.7 L385.3,80.5 L405.8,82.5 L420.0,84.5 L424.0,87.0 L428.0,84.5 L435.0,83.7 L448.0,82.5 L456.0,80.5 L462.0,80.5 L466.0,82.5 L476.1,83.7 L493.2,86.5 L498.5,88.0 L500.0,95.0 L502.0,106.0 L505.0,111.0 L510.3,112.0 L512.0,118.0 L514.5,127.0 L518.0,129.5 L524.0,128.9 L537.7,126.9 L551.4,124.8 L555.0,124.1 L563.0,122.0 L566.0,116.0 L567.5,105.0 L569.0,97.0 L573.0,93.5 L579.0,92.8 L590.0,94.0 L596.1,96.4 L603.0,99.0 L606.3,102.9 L612.0,107.0 L616.6,108.0 L637.1,108.4 L650.8,109.1 L664.5,111.5 L672.0,113.0 L674.8,117.3 L681.6,122.0 L685.0,126.0 L689.0,136.0 L693.7,138.5 L701.0,139.4 L711.9,136.5 L716.0,132.0 L722.9,128.5 L733.9,126.7 L742.6,123.4 L749.0,126.5 L755.8,126.7 L761.0,124.0 L766.8,123.0 L777.7,123.0 L788.7,117.9 L799.6,116.8 L810.0,116.4 L823.8,114.0 L834.0,111.0 L844.3,105.9 L848.4,99.0 L853.9,96.2 L857.5,90.0 L860.9,84.4 L884.0,84.0 L884.0,84.0 L885.2,86.2 L886.3,88.4 L887.5,90.7 L888.6,92.9 L889.7,95.2 L890.7,97.4 L891.8,99.7 L892.8,102.0 L893.8,104.3 L894.8,106.6 L895.7,108.9 L896.7,111.2 L897.6,113.6 L898.5,115.9 L899.4,118.3 L900.3,120.6 L901.2,123.0 L902.0,125.3 L902.9,127.7 L903.7,130.1 L904.6,132.5 L905.4,134.8 L906.2,137.2 L907.0,139.6 L907.8,142.0 L908.6,144.4 L909.4,146.8 L910.1,149.2 L910.9,151.6 L911.7,154.0 L912.4,156.3 L913.2,158.7 L914.0,161.1 L914.7,163.5 L915.5,165.9 L916.3,168.3 L917.0,170.6 L917.8,173.0 L918.6,175.4 L919.4,177.7 L920.1,180.1 L920.9,182.4 L921.7,184.8 L922.5,187.1 L923.4,189.5 L924.2,191.8 L925.0,194.2 L925.8,196.5 L926.7,198.9 L927.6,201.2 L928.5,203.6 L929.4,205.9 L930.3,208.3 L931.2,210.6 L932.1,213.0 L933.1,215.3 L934.1,217.7 L935.1,220.0 L936.1,222.4 L937.2,224.8 L938.2,227.2 L939.3,229.5 L940.5,231.9 L941.7,234.2 L943.0,236.4 L944.3,238.5 L945.8,240.5 L947.5,242.2 L949.3,243.8 L951.2,245.2 L953.4,246.2 L955.7,247.1 L958.2,247.8 L960.6,248.4 L963.0,249.2 L965.3,250.1 L967.4,251.4 L969.3,252.9 L971.0,254.6 L972.5,256.5 L973.7,258.6 L974.8,260.9 L975.7,263.2 L976.5,265.7 L977.2,268.2 L977.8,270.7 L978.4,273.2 L979.0,275.8 L979.6,278.3 L980.1,280.8 L980.7,283.2 L981.2,285.7 L981.8,288.2 L982.3,290.6 L982.8,293.1 L983.3,295.5 L983.8,297.9 L984.3,300.4 L984.8,302.8 L985.3,305.2 L985.8,307.7 L986.3,310.1 L986.8,312.5 L987.3,315.0 L987.8,317.4 L988.3,319.8 L988.9,322.3 L989.4,324.7 L989.9,327.1 L990.4,329.6 L990.9,332.0 L991.4,334.5 L992.0,336.9 L992.5,339.4 L993.0,341.8 L993.6,344.3 L994.1,346.7 L994.7,349.2 L995.3,351.6 L995.8,354.1 L996.4,356.5 L997.0,359.0 L997.5,361.4 L998.1,363.9 L998.7,366.3 L999.3,368.7 L999.9,371.2 L1000.6,373.6 L1001.2,376.1 L1001.8,378.5 L1002.5,380.9 L1003.1,383.4 L1003.8,385.8 L1004.5,388.2 L1005.1,390.7 L1005.8,393.1 L1006.5,395.5 L1007.2,397.9 L1007.9,400.3 L1008.7,402.7 L1009.4,405.1 L1010.2,407.5 L1010.9,409.9 L1011.7,412.3 L1012.5,414.7 L1013.3,417.1 L1014.1,419.5 L1014.9,421.8 L1015.7,424.2 L1016.6,426.6 L1017.5,428.9 L1018.3,431.3 L1019.2,433.6 L1020.1,436.0 L1021.0,438.3 L1022.0,440.6 L1022.9,442.9 L1023.9,445.2 L1024.8,447.5 L1025.8,449.8 L1026.8,452.1 L1027.8,454.4 L1028.9,456.7 L1029.9,459.0 L1031.0,461.2 L1032.0,463.5 L1033.1,465.7 L1034.2,468.0 L1035.3,470.2 L1036.5,472.5 L1037.6,474.7 L1038.7,476.9 L1039.9,479.1 L1041.0,481.3 L1042.2,483.5 L1043.4,485.7 L1044.6,487.9 L1045.8,490.1 L1047.0,492.3 L1048.2,494.5 L1049.5,496.7 L1050.7,498.9 L1051.9,501.0 L1053.2,503.2 L1054.5,505.4 L1055.7,507.5 L1057.0,509.7 L1058.3,511.9 L1059.5,514.0 L1060.8,516.2 L1062.1,518.3 L1063.4,520.5 L1064.7,522.6 L1066.0,524.8 L1067.3,526.9 L1068.6,529.1 L1069.9,531.2 L1071.2,533.3 L1072.6,535.5 L1073.9,537.6 L1075.2,539.7 L1076.5,541.9 L1077.8,544.0 L1079.2,546.2 L1080.5,548.3 L1081.8,550.4 L1083.2,552.5 L1084.5,554.7 L1085.8,556.8 L1087.2,558.9 L1088.5,561.0 L1089.9,563.2 L1091.2,565.3 L1092.5,567.4 L1093.9,569.5 L1095.3,571.6 L1096.6,573.7 L1098.0,575.8 L1099.3,577.9 L1100.7,580.0 L1102.1,582.1 L1103.4,584.2 L1104.8,586.3 L1106.2,588.4 L1107.6,590.5 L1109.0,592.6 L1110.4,594.7 L1111.8,596.7 L1113.1,598.8 L1114.6,600.9 L1116.0,603.0 L1117.4,605.0 L1118.8,607.1 L1120.2,609.1 L1121.7,611.2 L1123.1,613.2 L1124.5,615.3 L1126.0,617.3 L1127.5,619.3 L1128.9,621.3 L1130.4,623.3 L1131.9,625.4 L1133.4,627.4 L1134.9,629.3 L1136.4,631.3 L1137.9,633.3 L1139.5,635.3 L1141.0,637.2 L1142.6,639.2 L1144.2,641.1 L1145.7,643.1 L1147.3,645.0 L1148.9,646.9 L1150.6,648.8 L1152.2,650.7 L1153.8,652.6 L1155.5,654.5 L1157.1,656.4 L1158.8,658.2 L1160.5,660.1 L1162.2,661.9 L1163.9,663.8 L1165.6,665.6 L1167.3,667.4 L1169.1,669.3 L1170.8,671.1 L1172.6,672.9 L1174.3,674.7 L1176.1,676.5 L1177.9,678.2 L1179.6,680.0 L1181.4,681.8 L1183.2,683.5 L1185.0,685.3 L1186.8,687.0 L1188.7,688.8 L1190.5,690.5 L1192.3,692.2 L1194.1,694.0 L1196.0,695.7 L1197.8,697.4 L1199.7,699.1 L1201.5,700.8 L1203.4,702.5 L1205.3,704.2 L1207.1,705.9 L1209.0,707.6 L1210.9,709.2 L1212.8,710.9 L1214.7,712.5 L1216.5,714.2 L1218.4,715.8 L1220.3,717.5 L1222.3,719.1 L1224.2,720.8 L1226.1,722.4 L1228.0,724.0 L1229.9,725.6 L1231.9,727.2 L1233.8,728.8 L1235.7,730.4 L1237.7,732.0 L1239.6,733.5 L1241.6,735.1 L1243.6,736.7 L1245.5,738.2 L1247.5,739.8 L1249.5,741.3 L1251.5,742.8 L1253.5,744.4 L1255.4,745.9 L1257.4,747.4 L1259.5,748.9 L1261.5,750.4 L1263.5,751.9 L1265.5,753.3 L1267.5,754.8 L1269.6,756.3 L1271.6,757.7 L1273.6,759.2 L1275.7,760.6 L1277.7,762.0 L1279.8,763.4 L1281.9,764.8 L1283.9,766.2 L1286.0,767.6 L1288.1,769.0 L1290.2,770.4 L1292.3,771.8 L1294.4,773.1 L1296.5,774.5 L1298.6,775.8 L1300.7,777.1 L1302.8,778.4 L1305.0,779.8 L1307.1,781.1 L1309.2,782.3 L1311.4,783.6 L1313.5,784.9 L1315.7,786.2 L1317.9,787.4 L1320.0,788.6 L1322.2,789.9 L1324.4,791.1 L1326.6,792.3 L1328.8,793.5 L1331.0,794.7 L1333.2,795.9 L1335.4,797.1 L1337.6,798.2 L1339.8,799.4 L1342.1,800.5 L1344.3,801.6 L1346.5,802.8 L1348.8,803.9 L1351.0,805.0 L1353.3,806.1 L1355.6,807.2 L1357.8,808.2 L1360.1,809.3 L1362.4,810.4 L1364.6,811.4 L1366.9,812.5 L1369.2,813.5 L1371.5,814.5 L1373.8,815.5 L1376.1,816.5 L1378.4,817.5 L1380.7,818.5 L1383.0,819.5 L1385.3,820.4 L1387.7,821.4 L1390.0,822.3 L1392.3,823.3 L1394.6,824.2 L1397.0,825.1 L1399.3,826.0 L1401.7,826.9 L1404.0,827.8 L1406.4,828.7 L1408.7,829.6 L1411.1,830.4 L1413.4,831.3 L1415.8,832.1 L1418.2,833.0 L1420.5,833.8 L1422.9,834.6 L1425.3,835.5 L1427.7,836.3 L1430.0,837.1 L1432.4,837.8 L1434.8,838.6 L1437.2,839.4 L1439.6,840.2 L1442.0,840.9 L1444.4,841.7 L1446.8,842.4 L1449.2,843.1 L1451.6,843.8 L1454.0,844.6 L1456.4,845.3 L1458.8,846.0 L1461.2,846.6 L1463.6,847.3 L1466.1,848.0 L1468.5,848.7 L1470.9,849.3 L1473.3,850.0 L1475.7,850.6 L1478.2,851.2 L1480.6,851.9 L1483.0,852.5 L1485.4,853.1 L1487.9,853.7 L1490.3,854.3 L1492.7,854.9 L1495.2,855.5 L1497.6,856.1 L1500.0,856.6 L1502.5,857.2 L1504.9,857.8 L1507.4,858.3 L1509.8,858.9 L1512.3,859.4 L1514.7,860.0 L1517.2,860.5 L1519.6,861.0 L1522.1,861.5 L1524.5,862.1 L1527.0,862.6 L1529.4,863.1 L1531.9,863.6 L1534.3,864.1 L1536.8,864.6 L1539.2,865.1 L1541.7,865.5 L1544.2,866.0 L1546.6,866.5 L1549.1,867.0 L1551.5,867.4 L1554.0,867.9 L1556.5,868.4 L1558.9,868.8 L1561.4,869.3 L1563.9,869.7 L1566.3,870.2 L1568.8,870.6 L1571.3,871.1 L1573.7,871.5 L1576.2,871.9 L1578.7,872.4 L1581.2,872.8 L1583.6,873.2 L1586.1,873.6 L1588.6,874.1 L1591.0,874.5 L1593.5,874.9 L1596.0,875.3 L1598.5,875.7 L1600.9,876.1 L1603.4,876.6 L1605.9,877.0 L1608.4,877.4 L1610.8,877.8 L1613.3,878.2 L1615.8,878.6 L1618.3,879.0 L1620.7,879.4 L1623.2,879.8 L1625.7,880.2 L1628.2,880.6 L1630.7,881.0 L1633.1,881.4 L1635.6,881.8 L1638.1,882.2 L1640.6,882.6 L1643.0,883.0 L1645.5,883.4 L1648.0,883.8 L1650.5,884.2 L1652.9,884.7 L1655.4,885.1 L1657.9,885.5 L1660.4,885.9 L1662.8,886.3 L1665.3,886.7 L1667.8,887.1 L1670.3,887.5 L1672.7,887.9 L1675.2,888.3" fill="none" stroke="#000080" stroke-width="13.6" stroke-linejoin="round" stroke-linecap="round"/></g><line x1="165.3" y1="1244.0" x2="188" y2="1244.0" stroke="#000" stroke-width="8.2"/><line x1="165.3" y1="889.9" x2="188" y2="889.9" stroke="#000" stroke-width="8.2"/><line x1="165.3" y1="535.7" x2="188" y2="535.7" stroke="#000" stroke-width="8.2"/><line x1="165.3" y1="181.6" x2="188" y2="181.6" stroke="#000" stroke-width="8.2"/><line x1="204.0" y1="1244" x2="204.0" y2="1265.6" stroke="#000" stroke-width="8.2"/><line x1="367.5" y1="1244" x2="367.5" y2="1254.8" stroke="#000" stroke-width="8.2"/><line x1="531.0" y1="1244" x2="531.0" y2="1265.6" stroke="#000" stroke-width="8.2"/><line x1="694.5" y1="1244" x2="694.5" y2="1254.8" stroke="#000" stroke-width="8.2"/><line x1="858.0" y1="1244" x2="858.0" y2="1265.6" stroke="#000" stroke-width="8.2"/><line x1="1021.5" y1="1244" x2="1021.5" y2="1254.8" stroke="#000" stroke-width="8.2"/><line x1="1185.0" y1="1244" x2="1185.0" y2="1265.6" stroke="#000" stroke-width="8.2"/><line x1="1348.5" y1="1244" x2="1348.5" y2="1254.8" stroke="#000" stroke-width="8.2"/><line x1="1512.0" y1="1244" x2="1512.0" y2="1265.6" stroke="#000" stroke-width="8.2"/><line x1="1675.5" y1="1244" x2="1675.5" y2="1254.8" stroke="#000" stroke-width="8.2"/><line x1="1839.0" y1="1244" x2="1839.0" y2="1265.6" stroke="#000" stroke-width="8.2"/><text x="76.37 106.29 120.83" y="199.98" font-family="'Liberation Sans', Arial, Helvetica, sans-serif" font-weight="normal" font-size="61.98" fill="#000" stroke="#000" stroke-width="1.5" stroke-linejoin="round">2.5</text><text x="76.51 106.54 121.01" y="553.66" font-family="'Liberation Sans', Arial, Helvetica, sans-serif" font-weight="normal" font-size="61.28" fill="#000" stroke="#000" stroke-width="1.5" stroke-linejoin="round">2.0</text><text font-family="'Liberation Sans', Arial, Helvetica, sans-serif" font-size="62.23" fill="#000" stroke="#000" stroke-width="1.5" stroke-linejoin="round"><tspan x="81.29" y="909.41" font-family="IPAGothic, 'Liberation Sans', sans-serif" font-size="60.4" stroke-width="2.3">1</tspan><tspan x="106.31" y="907.25">.</tspan><tspan x="120.76" y="907.25">5</tspan></text><text font-family="'Liberation Sans', Arial, Helvetica, sans-serif" font-size="61.96" fill="#000" stroke="#000" stroke-width="1.5" stroke-linejoin="round"><tspan x="81.19" y="1264.01" font-family="IPAGothic, 'Liberation Sans', sans-serif" font-size="60.4" stroke-width="2.3">1</tspan><tspan x="106.44" y="1261.84">.</tspan><tspan x="120.57" y="1261.84">0</tspan></text><text x="159.55 190.85 219.55" y="1326.68" font-family="'Liberation Sans', Arial, Helvetica, sans-serif" font-weight="normal" font-size="62.02" fill="#000" stroke="#000" stroke-width="1.5" stroke-linejoin="round">200</text><text x="486.06 516.37 546.07" y="1326.85" font-family="'Liberation Sans', Arial, Helvetica, sans-serif" font-weight="normal" font-size="61.97" fill="#000" stroke="#000" stroke-width="1.5" stroke-linejoin="round">400</text><text x="812.15 842.02 872.37" y="1326.84" font-family="'Liberation Sans', Arial, Helvetica, sans-serif" font-weight="normal" font-size="61.97" fill="#000" stroke="#000" stroke-width="1.5" stroke-linejoin="round">600</text><text x="1139.42 1169.62 1199.22" y="1326.84" font-family="'Liberation Sans', Arial, Helvetica, sans-serif" font-weight="normal" font-size="61.95" fill="#000" stroke="#000" stroke-width="1.5" stroke-linejoin="round">800</text><text font-family="'Liberation Sans', Arial, Helvetica, sans-serif" font-size="61.25" fill="#000" stroke="#000" stroke-width="1.5" stroke-linejoin="round"><tspan x="1457.89" y="1329.02" font-family="IPAGothic, 'Liberation Sans', sans-serif" font-size="60.4" stroke-width="2.3">1</tspan><tspan x="1480.97" y="1326.85">0</tspan><tspan x="1512.97" y="1326.85">0</tspan><tspan x="1542.42" y="1326.85">0</tspan></text><text font-family="'Liberation Sans', Arial, Helvetica, sans-serif" font-size="61.24" fill="#000" stroke="#000" stroke-width="1.5" stroke-linejoin="round"><tspan x="1784.19" y="1329.01" font-family="IPAGothic, 'Liberation Sans', sans-serif" font-size="60.4" stroke-width="2.3">1</tspan><tspan x="1806.07" y="1326.84">2</tspan><tspan x="1839.37" y="1326.84">0</tspan><tspan x="1869.57" y="1326.84">0</tspan></text><text x="796.18 853.04 884.15 912.10 940.46 954.40 981.44 1013.57 1044.74 1062.05 1095.98 1108.23 1128.44 1160.38 1210.66" y="1425.30" font-family="'Liberation Sans', Arial, Helvetica, sans-serif" font-weight="normal" font-size="61.00" fill="#000" stroke="#000" stroke-width="1.5" stroke-linejoin="round">Wavelength (nm)</text><text transform="translate(43.4,792.9) rotate(-90)" x="-4.31 37.25 65.25 83.82 106.74 138.36 165.84 183.59 199.50 227.95 261.87 269.09 284.54 316.97 349.15 374.59 405.09 417.78 437.64 471.61" y="0" font-family="'Liberation Sans', Arial, Helvetica, sans-serif" font-weight="normal" font-size="61.00" fill="#000" stroke="#000" stroke-width="1.5" stroke-linejoin="round">Refractive index (n)</text><line x1="1432.2" y1="419.5" x2="1475.2" y2="419.5" stroke="#ff0000" stroke-width="13.7" stroke-linecap="round"/><text x="1499.66 1537.96 1580.46 1623.34 1638.54 1693.04 1736.49" y="437.43" font-family="'Liberation Sans', Arial, Helvetica, sans-serif" font-weight="normal" font-size="61.00" fill="#000" stroke="#000" stroke-width="1.5" stroke-linejoin="round">PVNiMC0</text><line x1="1432.2" y1="491.7" x2="1475.2" y2="491.7" stroke="#0000ff" stroke-width="13.7" stroke-linecap="round"/><text font-family="'Liberation Sans', Arial, Helvetica, sans-serif" font-size="61.00" fill="#000" stroke="#000" stroke-width="1.5" stroke-linejoin="round"><tspan x="1499.66" y="508.71">P</tspan><tspan x="1537.96" y="508.71">V</tspan><tspan x="1580.46" y="508.71">N</tspan><tspan x="1623.34" y="508.71">i</tspan><tspan x="1638.54" y="508.71">M</tspan><tspan x="1693.04" y="508.71">C</tspan><tspan x="1740.60" y="510.88" font-family="IPAGothic, 'Liberation Sans', sans-serif" font-size="60.4" stroke-width="2.3">1</tspan></text><line x1="1432.2" y1="563.9" x2="1475.2" y2="563.9" stroke="#ff0080" stroke-width="13.7" stroke-linecap="round"/><text x="1499.66 1537.96 1580.46 1623.34 1638.54 1693.04 1735.89" y="582.07" font-family="'Liberation Sans', Arial, Helvetica, sans-serif" font-weight="normal" font-size="61.00" fill="#000" stroke="#000" stroke-width="1.5" stroke-linejoin="round">PVNiMC2</text><line x1="1432.2" y1="636.1" x2="1475.2" y2="636.1" stroke="#000080" stroke-width="13.7" stroke-linecap="round"/><text x="1499.66 1537.96 1580.46 1623.34 1638.54 1693.04 1736.67" y="653.43" font-family="'Liberation Sans', Arial, Helvetica, sans-serif" font-weight="normal" font-size="61.00" fill="#000" stroke="#000" stroke-width="1.5" stroke-linejoin="round">PVNiMC3</text><text x="1482.48 1508.95 1549.14" y="120.36" font-family="'Liberation Serif', 'Times New Roman', Times, serif" font-weight="bold" font-size="77.56" fill="#000">(a)</text></svg>
</body></html>
